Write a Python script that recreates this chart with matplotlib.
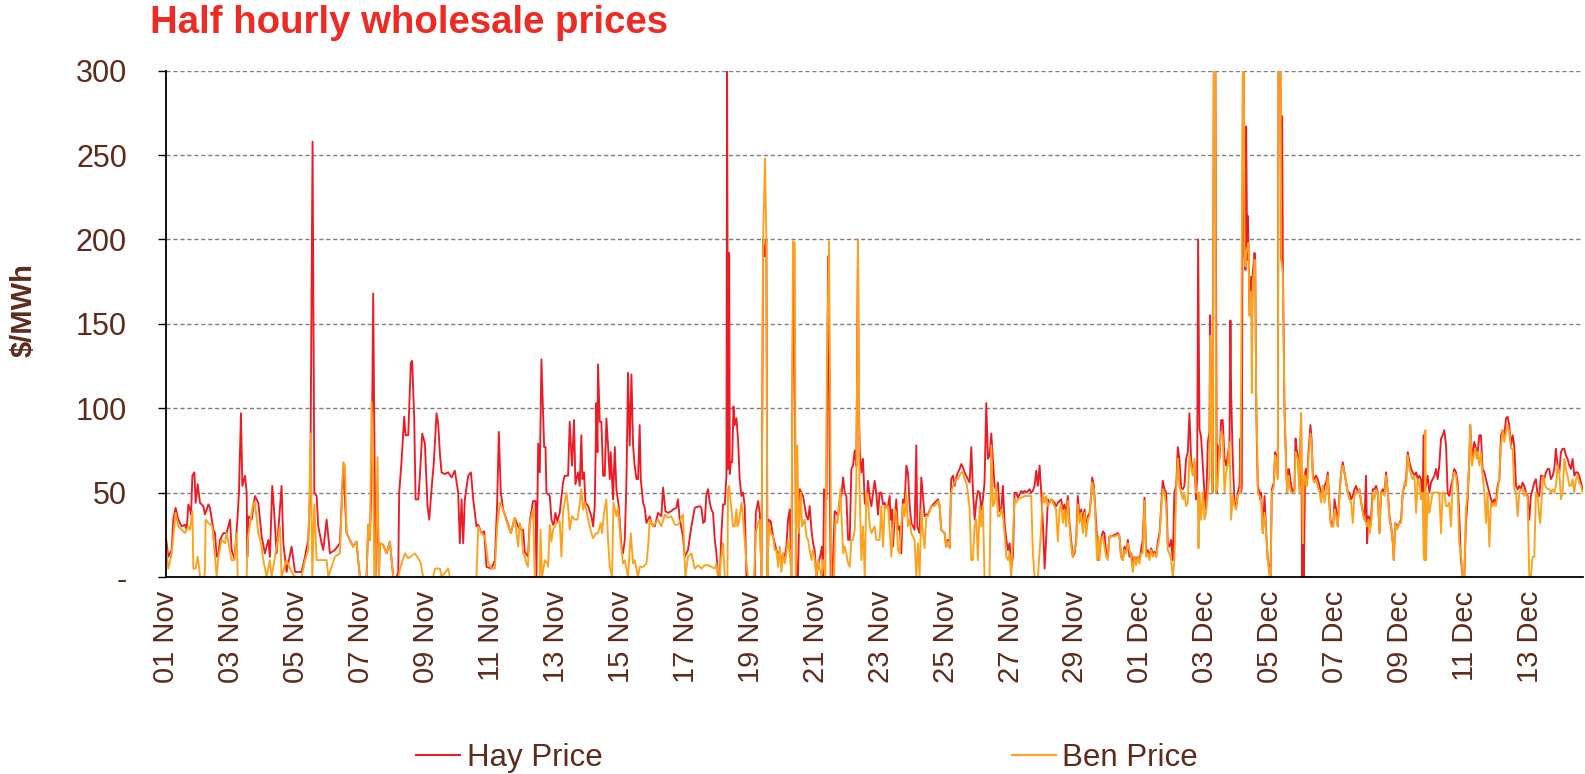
import matplotlib
matplotlib.use('Agg')
import matplotlib.pyplot as plt
from matplotlib.lines import Line2D

plt.rcParams['font.family'] = ['Liberation Sans', 'DejaVu Sans']

# (hours since 01 Nov 00:00, $/MWh)
hay_points = [
(0,23),(1.7,12),(4.2,16),(5.4,34),(7.1,41),(9.1,34),(11.6,30),(14,31),(15.3,28),(16.5,43),(17.7,40),(18.5,37),(19.5,60),(21,62),(21.9,44),(23.4,55),(25.1,44),(27.6,42),(28.8,37),(31.3,43),(32.5,41),(35,28),(36.2,26),(37.4,12),(38.7,14),(39.9,22),(42.4,26),(44.8,26),(47.3,34),(48.5,16),(50.5,11),(51.5,20),(53,37),(53.9,50),(55.4,97),(56.4,54),(58.4,60),(59.6,50),(60.1,12),(60.8,36),(63.3,34),(65.7,48),(68.2,44),(70.7,24),(73.1,14),(75.6,22),(76.8,12),(78.5,54),(79.8,40),(81.7,14),(85.4,54),(86.7,20),(89.1,3),(92.8,18),(95.3,3),(100.2,3),(102.7,12),(105.1,22),(106.6,50),(108.3,258),(109.6,50),(111.3,48),(112.5,30),(115,20),(116.2,16),(118.7,34),(121.1,14),(124.8,16),(128.5,20),
(131,66),(133.4,26),(135.9,22),(138.3,18),(140.8,21),(142,10),(143.3,0),(148.2,0),(149.4,31),(150.7,22),(151.9,60),(153.1,168),(153.9,90),(154.8,0),(156.3,50),(157.3,0),(158,20),(160.5,19),(163,14),(165.4,21),(166.7,10),(167.9,0),(170.3,0),(171.6,3),(172.3,50),(174,68),(176,95),(177,84),(179,84),(180.9,127),(181.9,128),(183.4,94),(184.4,46),(186.4,46),(187.6,60),(189.3,85),(191.3,79),(193.2,42),(194.5,34),(196.2,52),(197.9,68),(199.9,97),(201.1,91),(202.4,73),(203.6,62),(206,61),(208.5,62),(211,59),(213.4,63),(215.9,50),(217.1,20),(218.4,46),(219.6,20),(220.8,46),(223.3,60),(225.3,62),(227,46),(229.4,30),(230.7,31),(233.1,26),(235.1,27),(236.8,6),(240.5,5),(243,10),(244.7,44),(245.9,86),(247.4,50),(249.1,40),(251.6,34),(254.8,26),
(257.7,35),(260.2,30),(261.4,28),(263.9,28),(265.1,15),(267.5,12),(268.8,33),(271.2,45),(273,45),(273.7,0),(275,79),(276.2,62),(277.4,129),(279.4,77),(280.4,77),(281.1,50),(283.6,48),(284.8,34),(286,31),(286.8,32),(287.7,38),(289.2,33),(290.9,38),(293.4,56),(294.6,60),(297.1,60),(298.3,92),(300,66),(301.5,93),(302.5,55),(304.5,62),(305.7,54),(306.9,84),(307.7,58),(308.9,62),(309.9,44),(311.9,42),(314.3,36),(315.6,30),(316.8,42),(318,103),(318.8,74),(319.2,126),(320.5,92),(321.7,92),(323,60),(324.2,60),(325.4,94),(326.6,78),(327.9,58),(328.6,74),(330.3,46),(331.6,77),(332.8,52),(334.5,42),(336.5,18),(337.7,14),(339,22),(340.2,56),(341.4,121),(342.6,78),(343.9,120),(345.1,78),(346.3,66),(347.6,58),(348.8,58),(350,90),(350.8,58),(352.5,44),(353.7,41),(355,32),(357.4,36),(358.6,32),(361.1,30),(363.6,38),(366,36),(367.3,53),(369,39),(371,38),(373.4,39),(374.6,40),(377.1,41),(378.3,46),(379.6,34),(382,24),(383.3,12),(385.7,16),(388.2,30),
(390.7,41),(394.4,42),(395.6,41),(396.9,32),(398.1,33),(399.3,49),(400.5,52),(401.8,44),(403,40),(404.2,38),(405.5,22),(406.7,14),(407.9,0),(409.2,0),(410.4,26),(411.6,43),(412.9,43),(414.1,60),(414.6,300),(415.3,64),(416.1,192),(416.6,61),(417.3,68),(418.3,68),(419.3,101),(420.2,90),(421.5,94),(422.7,81),(423.9,58),(425.2,48),(426.4,50),(427.6,42),(428.9,0),(435,0),(435.8,38),(437.5,45),(438.7,38),(440,0),(441.2,200),(442.4,190),(443.6,200),(444.4,0),(445.4,34),(446.8,33),(448.6,24),(449.8,20),(451,16),(452.3,14),(453.5,15),(454.7,8),(455.9,14),(457.2,12),(458.4,18),(459.6,34),(460.9,40),(462.1,0),(462.8,107),(463.6,198),(464.6,110),(465.8,0),(467,0),(468.3,52),(469.5,50),(470.7,48),(471.9,42),(473.2,36),(474.4,34),(475.6,42),(476.9,28),(478.1,20),(479.3,16),(480.6,0),(481.8,7),(483.8,14),(484.7,18),(485.5,0),(486.2,52),(488,46),(489.2,190),(491.1,0),(492.4,0),(494.1,39),(495.3,38),(496.6,36),(497.8,46),(499,48),(500.3,59),(501.5,50),(502.7,48),(504,22),(505.2,22),(506.4,64),(507.6,66),(508.9,75),(510.1,66),(511.3,200),(511.8,107),(512.6,75),(513.8,62),(515,70),(516.3,44),(517.5,42),(518.7,57),(520,47),(521.2,42),
(523.6,57),(524.8,50),(526.1,37),(527.3,50),(528.5,50),(529.8,43),(531,44),(532.2,41),(533.4,42),(534.7,48),(535.4,34),(536.4,40),(537.1,18),(538.4,34),(539.6,46),(540.8,28),(542.1,30),(543.3,14),(544.5,46),(545.8,44),(547,66),(548.2,62),(549.5,42),(550.7,32),(551.9,30),(553.1,28),(554.4,78),(555.1,30),(556.8,26),(558.1,59),(559.3,48),(560.5,36),(561.8,37),(563,37),(565.5,42),(567.9,44),(570.4,46),(571.6,42),(572.8,28),(575.3,26),(576.5,18),(577.8,22),(579,18),(580.2,58),(581.5,60),(582.7,54),(583.9,59),(585.2,62),(586.4,64),(587.6,67),(588.8,65),(590.1,62),(592.5,58),(593.8,56),(595,77),(596.2,52),(597.5,34),(598.7,45),(599.9,51),(601.2,50),(602.4,40),(603.6,46),(604.8,56),(606.1,103),(607.3,70),(608.5,72),(609.8,85),(611,70),(612.2,54),(613.5,51),(614.7,56),(615.9,39),(617.2,40),(618.4,54),(619.6,32),(620.9,22),(622.1,16),(623.3,20),(624.5,5),(625.8,12),(627,50),(628.2,50),(629.5,47),(630.7,49),(631.9,51),(633.2,50),(634.4,51),(635.6,50),(636.9,51),(638.1,52),(639.3,50),(640.5,51),(641.8,54),(643,63),(644.2,54),(645.5,66),(646.7,50),(647.9,32),(649.2,5),(650.4,24),(651.6,46),(652.9,44),(654.1,46),
(656.5,44),(657.7,42),(659,44),(660.2,45),(661.4,46),(662.7,40),(663.9,43),(665.1,36),(666.3,48),(667.6,32),(668.8,22),(670,12),(671.3,14),(672.5,22),(673.7,48),(675,36),(676.2,40),(677.4,34),(678.7,40),(679.9,28),(681.1,36),(682.4,38),(683.6,48),(684.3,59),(685.6,54),(686.5,42),(688,22),(689,10),(689.7,18),(691,22),(692.2,27),(693.4,26),(694.7,14),(695.9,12),(697.1,24),(698.4,24),(700.8,25),(703.3,26),(704.5,24),(705.7,12),(707,10),(708.2,18),(709.4,15),(710.7,22),(711.9,12),(713.1,14),(714.4,8),(715.6,12),(716.8,10),(718,12),(719.3,10),(720.5,16),(721.7,22),(723,47),(724.2,14),(725.4,16),(726.7,12),(727.9,17),(729.1,14),(730.4,15),(731.6,12),(732.8,21),(734.1,26),(735.3,42),(736.5,57),(737.7,52),(739,50),(740.2,20),(741.4,18),(742.7,22),(743.9,10),(745.1,50),(746.4,54),(747.6,77),(748.8,70),(750.1,53),(751.3,52),(752.5,54),(753.7,70),(755,74),(756.2,97),(757.4,70),(758.7,62),(759.9,68),(761.1,46),(761.9,60),(762.6,200),(763.6,88),(764.8,83),(766.1,66),(767.3,50),(768.5,40),(769.8,80),(771,86),(771.5,155),(772.2,105),(773.4,50),(774.2,300),(775.4,300),(776.4,50),(777.1,78),(778.4,70),(779.6,93),(780.8,93),(782.1,70),(783.3,66),(784.5,72),(785.8,80),(786.5,152),(787,109),(788.2,70),
(789.5,44),(790.7,42),(792,50),(793.2,54),(793.9,82),(794.4,50),(794.9,54),(795.7,300),(796.4,300),(796.9,192),(797.6,182),(798.1,267),(798.9,188),(799.3,214),(799.8,198),(800.6,155),(801.3,169),(801.8,178),(802.3,150),(803,180),(804.3,192),(804.8,188),(805.5,109),(806,80),(806.7,54),(808,50),(808.7,46),(809.2,50),(810.4,26),(811.7,48),(812.9,26),(814.1,10),(815.4,5),(816.1,0),(817.1,52),(818.6,56),(819.5,74),(820.3,72),(821.5,60),(822,300),(823.5,300),(824,188),(824.7,273),(825.2,188),(826.4,101),(827.7,65),(828.4,50),(829.4,64),(830.1,62),(831.4,54),(832.6,50),(833.8,52),(834.6,82),(835.3,76),(836.3,72),(837.5,54),(838.7,97),(839.5,0),(840,30),(840.7,0),(841.7,62),(842.4,64),(843.2,58),(844.2,74),(845.6,90),(846.6,80),(847.4,60),(848.6,58),(849.8,60),(851,58),(852.3,54),(853.5,50),(854.7,48),(856,54),(857.2,56),(858.4,62),(859.2,50),(860.4,34),(861.4,30),(862.4,30),(863.4,46),(864.6,40),(865.8,30),(867.1,50),(868.3,62),(869.5,68),(870.7,62),(872,56),(873.2,50),(874.4,50),(875.7,46),(876.9,48),(878.1,52),(879.4,54),(880.6,50),(881.8,52),(883.1,44),(884.3,39),(885.5,34),(886.7,60),(887.5,20),(888.5,36),(889.2,32),(890,30),(890.9,42),(891.7,52),(892.9,52),(894.1,54),(895.4,50),(896.6,26),(897.8,50),(899.1,52),(900.3,50),(901.5,62),(902.8,50),(904,36),(905.2,30),(906.5,20),(907.2,10),(908.2,32),(909.6,30),(911.4,32),(912.6,34),(913.8,50),(915.1,54),(916.3,58),(917.5,74),(918.8,68),(920,64),(921.2,62),(922.4,60),(923.7,62),(924.9,58),(926.1,60),
(927.3,58),(928.5,46),(929.3,84),(929.8,50),(931,54),(932.2,60),(933.5,50),(934.7,56),(935.9,58),(937.2,60),(938.4,64),(939.6,58),(940.8,66),(942.1,82),(943.3,84),(944.5,87),(945.8,78),(947,50),(948.2,48),(949.5,54),(950.7,58),(951.9,64),(953.2,62),(954.4,56),(955.6,36),(956.8,10),(958.1,0),(959.3,0),(960.5,32),(961.8,46),(963,70),(963.7,90),(965,70),(966.7,80),(967.9,76),(969.2,74),(970.4,84),(971.6,84),(972.8,64),(974.1,62),(975.3,58),(976.5,54),(977.8,50),(979,46),(980.2,44),(981.5,46),(982.7,44),(983.9,54),(985.2,58),(986.4,84),(987.6,87),(988.9,84),(990.1,94),(991.3,95),(992.5,90),(993.8,78),(995,84),(996.2,78),(997.5,54),(998.7,52),(999.9,54),(1001.2,52),(1002.4,56),(1003.6,54),(1004.9,50),(1006.1,48),(1007.3,34),(1008.5,48),(1009.8,52),(1011,56),(1012.2,58),(1013.5,48),(1014.7,48),(1015.9,60),(1017.2,60),(1018.4,58),(1019.6,62),(1020.9,64),(1022.1,64),(1023.3,58),(1024.6,60),(1025.8,64),(1027,76),(1028.2,66),(1029.5,62),(1030.7,74),(1031.9,76),(1033.2,76),(1034.4,72),(1035.6,70),(1036.9,66),(1038.1,64),(1039.3,70),(1040.6,60),(1041.8,62),(1043,62),(1044.2,60),(1045.5,56),(1046.7,52),
]

ben_points = [
(0,18),(1.7,5),(4.2,14),(7.1,38),(9.1,30),(11.6,28),(14,26),(16.5,30),(17.7,28),(19.5,39),(20.2,5),(21.9,5),(23.4,12),(24.6,5),(25.1,0),(28.3,0),(28.8,5),(29.3,34),(31.3,32),(34.2,30),(36.2,12),(37.4,0),(38.7,12),(41.1,22),(43.6,20),(44.8,26),(48.5,10),(50.5,10),(52.2,26),(53,0),(59.6,0),(60.3,22),(64.5,44),(65.7,44),(68.2,26),(70.2,20),(71.9,10),(74.4,0),(76.8,10),(78,0),(84.2,30),(85.4,0),(89.1,10),(92.8,3),(95.3,0),(100.2,0),(102.7,10),(105.1,16),(106.9,85),(108.1,0),(109.6,43),(111.3,10),(115,10),(118.7,10),(119.9,0),(124.8,12),(128.5,14),
(131,68),(132.2,66),(133.4,26),(135.9,22),(138.3,18),(140.8,21),(142,10),(143.3,0),(148.2,0),(149.4,31),(150.7,22),(151.9,104),(153.1,60),(153.9,0),(154.8,0),(156.3,71),(157.3,0),(158,20),(160.5,19),(163,14),(165.4,21),(166.7,10),(167.9,0),(171.6,0),(173.3,6),(176.5,14),(179,11),(183.9,14),(186.4,11),(188.3,8),(190,0),(197.4,0),(198.7,5),(202.4,5),(203.6,0),(208.5,5),(209.7,0),(229.4,0),(230.7,30),(233.1,26),(235.6,24),(238.1,8),(240.5,5),(243,5),(244.7,30),(246.7,44),(249.1,40),(251.6,33),(254.8,26),
(257.7,35),(260.2,18),(261.4,32),(262.6,28),(263.9,14),(265.1,12),(266.3,8),(267.5,6),(268.8,32),(271.2,40),(272.5,0),(276.2,0),(276.7,28),(277.9,0),(279.9,10),(281.8,8),(282.3,6),(283.6,31),(284.8,21),(286,28),(288.5,32),(290.9,33),(292.2,12),(293.4,39),(295.9,50),(297.1,42),(298.3,28),(300,36),(302,34),(304,34),(305.7,43),(306.9,52),(308.2,40),(309.4,44),(311.9,34),(314.3,26),(315.6,23),(318,26),(319.2,26),(321.2,32),(322.2,26),(323.7,38),(325.4,46),(326.6,22),(327.9,6),(329.6,0),(330.6,44),(332.8,36),(334,41),(336,20),(337.7,8),(339,10),(341.4,0),(343.4,26),(345.1,8),(346.3,10),(348.8,0),(350,6),(352.5,6),(355,8),(356.2,18),(357.4,34),(359.9,30),(363.6,34),(366,30),(368.5,37),(371,35),(373.4,36),(375.9,31),(378.3,31),(382,37),(383.7,0),(385.7,12),(388.2,14),
(390.7,5),(393.2,7),(395.6,5),(398.1,7),(400.5,7),(403,6),(405.5,5),(406.7,8),(407.9,0),(409.2,0),(409.9,10),(411.6,20),(412.9,0),(414.8,0),(415.3,52),(416.1,54),(417.3,44),(419,30),(420.2,30),(421.5,40),(422.2,30),(423.2,32),(425.2,44),(426.4,34),(427.6,22),(428.9,8),(430.1,0),(434.5,0),(435.8,26),(437.5,32),(438.7,34),(440,0),(441.2,200),(442.6,248),(443.6,200),(444.4,0),(445.4,32),(446.8,26),(448.6,24),(449.8,16),(451,16),(452.3,6),(453.5,18),(454.7,3),(455.9,14),(457.2,8),(458.4,14),(459.6,22),(460.9,14),(462.1,0),(463.3,199),(464.6,198),(465.3,0),(466.5,78),(467.5,26),(469,50),(470,30),(471.9,34),(473.2,24),(474.4,22),(475.6,16),(476.9,10),(478.1,16),(479.3,10),(480.6,0),(481.8,10),(484.3,0),(485.5,10),(487.2,0),(488.4,129),(489.9,199),(490.9,90),(491.6,0),(493.6,0),(494.6,34),(496.1,32),(497.1,40),(498.3,52),(500.3,14),(501.5,18),(502.7,14),(504,8),(505.2,6),(506.4,22),(507.6,22),(508.9,28),(510.1,58),(511.3,200),(512.3,58),(513.8,10),(515,30),(516.3,0),(517.5,50),(518.7,44),(520,30),(521.2,26),
(523.6,30),(524.8,22),(527.3,22),(528.5,42),(529.8,18),(531,42),(532.2,41),(533.4,42),(534.7,28),(535.9,12),(537.1,28),(538.4,40),(539.6,38),(540.8,16),(542.1,14),(543.3,31),(544.5,43),(545.8,36),(547,50),(548.2,30),(549.5,34),(550.7,26),(553.1,22),(554.4,0),(555.6,20),(556.8,0),(558.1,40),(559.3,26),(560.5,17),(561.8,36),(563,36),(565.5,42),(567.9,42),(570.4,45),(571.6,43),(572.8,28),(575.3,26),(576.5,18),(577.8,21),(579,17),(580.2,50),(581.5,54),(582.7,56),(583.9,58),(585.2,58),(586.4,60),(587.6,62),(588.8,62),(590.1,58),(591.3,56),(592.5,50),(593.8,40),(595,10),(596.2,10),(597.5,30),(598.7,34),(599.9,10),(601.2,42),(602.4,30),(603.6,42),(604.8,0),(608.5,0),(609.8,78),(611,42),(612.2,44),(613.5,54),(614.7,36),(615.9,36),(617.2,40),(618.4,36),(619.6,26),(620.9,12),(622.1,10),(623.3,14),(624.5,0),(627,46),(628.2,44),(629.5,46),(631.9,47),(634.4,48),(636.9,48),(639.3,48),(640.5,14),(641.8,0),(644.2,0),(645.5,15),(646.7,30),(647.9,50),(649.2,44),(650.4,48),(651.6,42),(654.1,46),
(656.5,42),(657.7,40),(659,21),(660.2,40),(661.4,43),(662.7,32),(663.9,40),(665.1,30),(666.3,45),(667.6,30),(668.8,18),(670,12),(672.5,20),(673.7,43),(675,32),(676.2,38),(677.4,26),(678.7,38),(679.9,24),(681.1,34),(682.4,36),(683.6,50),(684.3,56),(685.6,52),(686.5,40),(687.3,22),(688,10),(689,24),(689.7,10),(691,22),(692.2,24),(694.7,12),(695.9,10),(697.1,24),(700.8,24),(703.3,25),(704.5,24),(705.7,12),(707,10),(708.2,16),(709.4,14),(710.7,20),(713.1,12),(714.4,3),(715.6,12),(716.8,7),(718,12),(719.3,8),(720.5,14),(721.7,14),(723,45),(724.2,12),(725.4,14),(726.7,10),(727.9,16),(729.1,12),(730.4,14),(731.6,12),(732.8,18),(734.1,24),(735.3,40),(736.5,52),(737.7,50),(739,42),(740.2,16),(741.4,14),(742.7,10),(743.9,0),(745.1,10),(746.4,50),(747.6,70),(748.8,54),(750.1,50),(751.3,46),(752.5,50),(753.7,42),(755,44),(756.2,72),(757.4,66),(758.7,60),(759.9,70),(761.1,50),(762.4,50),(762.9,17),(763.6,50),(764.8,34),(766.1,50),(767.3,34),(768.5,38),(769.8,50),(771,60),(771.5,143),(772.2,109),(773.4,50),(774.2,300),(775.4,300),(775.9,50),(777.1,54),(778.4,76),(779.6,86),(780.8,84),(782.1,50),(783.3,62),(784.5,66),(785.8,80),(787,34),(788.2,48),
(789.5,42),(790.7,40),(792,48),(793.2,50),(793.9,50),(795.7,300),(796.4,300),(796.9,196),(797.6,184),(798.1,192),(799.3,196),(799.8,198),(800.6,155),(801.3,157),(801.8,169),(802.3,109),(803,176),(803.8,180),(804.3,188),(804.8,184),(805.5,109),(806.2,80),(806.7,50),(809.2,46),(810.4,26),(811.7,38),(812.9,26),(814.1,10),(815.4,0),(816.1,0),(817.1,50),(818.6,54),(819.5,72),(820.3,70),(821.5,58),(822,300),(823.5,300),(824,188),(825.2,180),(826.4,101),(827.7,64),(828.4,50),(829.4,60),(830.1,54),(831.4,50),(833.8,50),(834.6,74),(835.3,72),(836.3,70),(837.5,50),(838.7,97),(839.5,50),(840,20),(840.7,60),(841.7,60),(842.4,54),(843.2,54),(844.2,70),(845.6,85),(846.6,78),(847.4,58),(848.6,56),(849.8,58),(851,54),(852.3,50),(853.5,44),(854.7,54),(856,44),(857.2,50),(858.4,60),(859.2,48),(860.4,32),(861.4,30),(862.4,30),(863.4,40),(864.6,36),(865.8,30),(867.1,48),(868.3,62),(869.5,66),(870.7,62),(872,56),(873.2,50),(874.4,46),(875.7,44),(876.9,32),(878.1,48),(879.4,50),(880.6,50),(881.8,52),(883.1,44),(884.3,38),(885.5,34),(886.7,32),(887.5,30),(888.5,34),(889.2,26),(890,30),(890.9,36),(891.7,50),(892.9,46),(894.1,52),(895.4,50),(896.6,26),(897.8,50),(899.1,50),(900.3,48),(901.5,60),(902.8,50),(904,34),(905.2,30),(906.5,20),(907.2,10),(908.2,32),(909.6,28),(911.4,32),(912.6,32),(913.8,50),(915.1,56),(916.3,54),(917.5,72),(918.8,64),(920,60),(921.2,58),(922.4,60),(923.7,38),(924.9,58),(926.1,56),
(927.3,46),(928.5,50),(929.3,12),(929.8,10),(930.5,87),(931,10),(931.7,34),(932.7,50),(933.5,38),(934.7,44),(935.9,50),(937.2,50),(938.4,50),(939.6,50),(940.8,50),(942.1,26),(943.3,50),(944.5,50),(945.8,42),(947,42),(948.2,44),(949.5,30),(950.7,58),(951.9,62),(953.2,60),(954.4,50),(955.6,20),(956.8,14),(958.1,0),(959.3,0),(960.5,40),(961.8,50),(963,70),(963.7,90),(965,66),(965.9,70),(967.4,76),(968.4,70),(969.2,74),(970.4,66),(971.6,74),(972.8,60),(974.1,50),(975.3,32),(976.5,50),(977.8,18),(979,44),(980.2,42),(981.5,44),(982.7,42),(983.9,50),(985.2,60),(986.4,78),(987.6,87),(988.9,80),(990.1,86),(991.3,90),(992.5,86),(993.8,76),(995,76),(996.2,52),(997.5,50),(998.7,36),(999.9,50),(1001.2,52),(1002.4,52),(1003.6,48),(1004.9,50),(1006.1,46),(1007.3,0),(1008.5,0),(1009.8,12),(1011,12),(1012.2,50),(1013.5,48),(1014.7,36),(1015.4,32),(1016.7,50),(1017.7,60),(1019.1,54),(1020.9,52),(1022.1,52),(1023.3,50),(1024.6,52),(1025.8,50),(1027,54),(1028.2,66),(1029.5,62),(1030.7,46),(1031.9,50),(1033.2,70),(1034.4,64),(1035.6,60),(1036.9,54),(1038.1,54),(1039.3,58),(1040.6,50),(1041.8,58),(1043,60),(1044.2,56),(1045.5,54),(1046.7,50),
]

tick_hours = [0, 48, 96, 144, 192, 240, 288, 336, 384, 432, 480, 528, 576, 624, 672,
              720, 768, 816, 864, 912, 960, 1008]
tick_labels = ['01 Nov', '03 Nov', '05 Nov', '07 Nov', '09 Nov', '11 Nov', '13 Nov',
               '15 Nov', '17 Nov', '19 Nov', '21 Nov', '23 Nov', '25 Nov', '27 Nov',
               '29 Nov', '01 Dec', '03 Dec', '05 Dec', '07 Dec', '09 Dec', '11 Dec', '13 Dec']
y_ticks = [0, 50, 100, 150, 200, 250, 300]
y_labels = ['-', '50', '100', '150', '200', '250', '300']

RED = '#ED1C24'
ORANGE = '#FCA21C'
BROWN = '#5E2A1C'

W, H = 1585, 774
fig = plt.figure(figsize=(W / 100, H / 100), dpi=100)
ax = fig.add_axes([166 / W, 1 - 577 / H, (1583 - 166) / W, (577 - 70.7) / H])

hx, hy = zip(*sorted(hay_points))
bx, by = zip(*sorted(ben_points))
ax.plot(hx, hy, color=RED, lw=1.35, label='Hay Price', zorder=3)
ax.plot(bx, by, color=ORANGE, lw=1.35, label='Ben Price', zorder=4)

ax.set_xlim(0, 1047)
ax.set_ylim(0, 300)
ax.set_yticks(y_ticks)
ax.set_yticklabels(y_labels)
ax.set_xticks(tick_hours)
ax.set_xticklabels(tick_labels, rotation=90)
ax.grid(axis='y', linestyle=(0, (3, 2)), color='#7F7F7F', lw=1.0)
ax.grid(axis='x', visible=False)
ax.set_axisbelow(True)

for s in ['top', 'right']:
    ax.spines[s].set_visible(False)
for s in ['left', 'bottom']:
    ax.spines[s].set_color('black')
    ax.spines[s].set_linewidth(1.3)
    ax.spines[s].set_zorder(5)

ax.tick_params(axis='y', length=6, width=1, color='black', labelsize=22,
               labelcolor=BROWN, pad=22)
ax.tick_params(axis='x', length=0, labelsize=21, labelcolor=BROWN, pad=10)

fig.text(150 / W, 1 - 23 / H, 'Half hourly wholesale prices', color='#EE2A24',
         fontsize=27.6, fontweight='bold', ha='left', va='center')
fig.text(24 / W, 1 - 310 / H, r'\$/MWh', rotation=90, color=BROWN, fontsize=21,
         fontweight='bold', ha='center', va='center')

handles = [Line2D([], [], color=RED, lw=1.5), Line2D([], [], color=ORANGE, lw=1.5)]
fig.legend(handles, ['Hay Price', 'Ben Price'], loc='center left',
           bbox_to_anchor=(416 / W, 1 - 758 / H), ncol=2, frameon=False,
           fontsize=22.5, handlelength=1.42, handletextpad=0.2, columnspacing=13.1,
           borderpad=0, borderaxespad=0, labelcolor=BROWN)

fig.savefig('out.png', dpi=100)
